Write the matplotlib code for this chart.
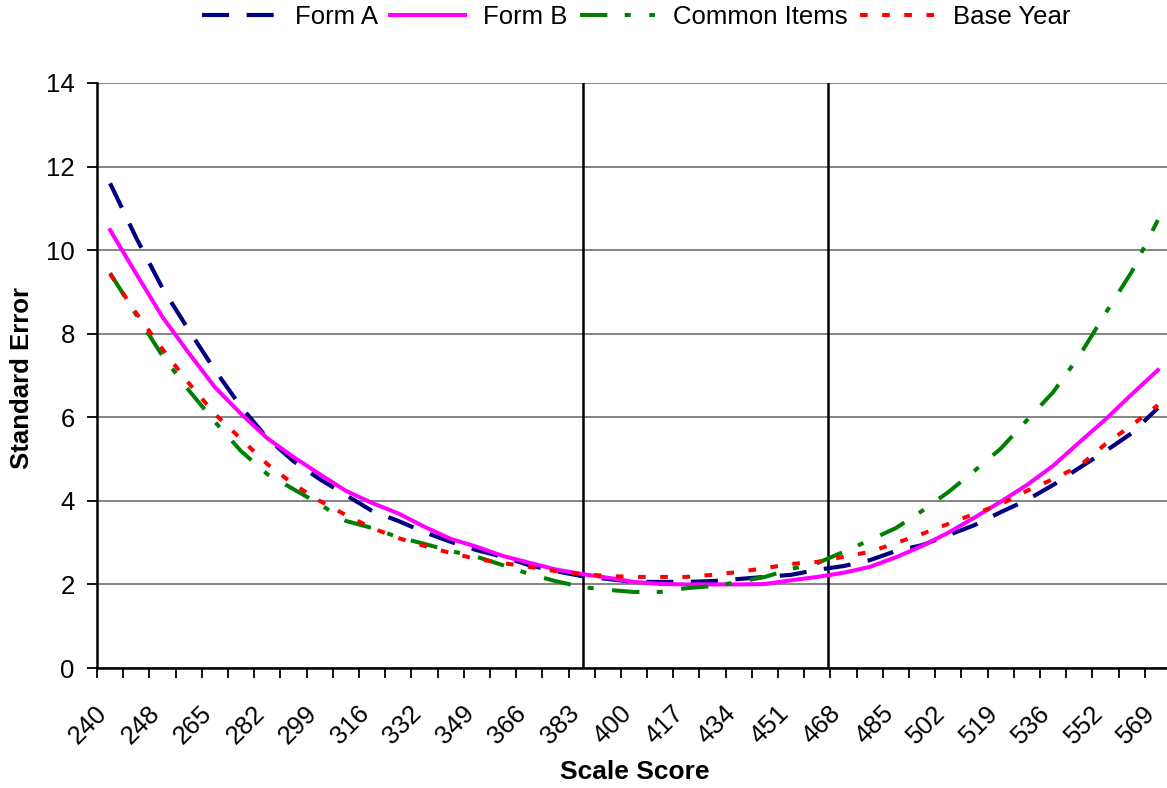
import numpy as np
import matplotlib
matplotlib.use('Agg')
import matplotlib.pyplot as plt
from matplotlib.transforms import ScaledTranslation

plt.rcParams['font.family'] = ['Liberation Sans', 'DejaVu Sans']

# scale score labels (every second category carries a label)
score_labels = [240, 248, 265, 282, 299, 316, 332, 349, 366, 383, 400,
                417, 434, 451, 468, 485, 502, 519, 536, 552, 569]

# standard error at each of the 41 scale score categories
form_a = [11.60, 10.29, 9.09, 8.09, 7.13, 6.25, 5.50, 4.95, 4.52, 4.14,
          3.76, 3.52, 3.25, 3.02, 2.82, 2.66, 2.46, 2.32, 2.20, 2.13,
          2.06, 2.06, 2.06, 2.08, 2.13, 2.18, 2.23, 2.35, 2.44, 2.58,
          2.80, 2.94, 3.18, 3.42, 3.73, 4.02, 4.38, 4.79, 5.19, 5.62, 6.22]
form_b = [10.48, 9.43, 8.40, 7.54, 6.72, 6.08, 5.50, 5.05, 4.64, 4.24,
          3.95, 3.70, 3.38, 3.09, 2.90, 2.68, 2.52, 2.36, 2.25, 2.16,
          2.06, 2.01, 2.00, 2.00, 2.00, 2.01, 2.10, 2.18, 2.28, 2.42,
          2.65, 2.92, 3.24, 3.60, 3.98, 4.38, 4.84, 5.40, 5.95, 6.55, 7.13]
common_items = [9.45, 8.45, 7.47, 6.65, 5.89, 5.19, 4.64, 4.28, 3.92, 3.52,
                3.35, 3.13, 2.97, 2.80, 2.66, 2.46, 2.25, 2.08, 1.94, 1.87,
                1.82, 1.82, 1.91, 1.96, 2.06, 2.18, 2.37, 2.51, 2.78, 3.06,
                3.35, 3.76, 4.21, 4.72, 5.25, 5.93, 6.60, 7.47, 8.49, 9.48, 10.72]
base_year = [9.43, 8.49, 7.63, 6.82, 6.08, 5.48, 4.88, 4.40, 4.00, 3.66,
             3.35, 3.11, 2.92, 2.75, 2.61, 2.51, 2.42, 2.32, 2.25, 2.20,
             2.18, 2.18, 2.18, 2.23, 2.30, 2.39, 2.49, 2.54, 2.66, 2.78,
             2.99, 3.21, 3.45, 3.69, 3.92, 4.24, 4.52, 4.83, 5.36, 5.81, 6.29]

# cut scores marked with vertical lines
cut_scores = [383.4, 462.9]

n = len(form_a)
x = np.arange(n)
label_pos = np.arange(0, n, 2)

fig = plt.figure(figsize=(11.67, 7.88), dpi=100)
ax = fig.add_axes([97 / 1167, 120 / 788, 1074 / 1167, 585 / 788])

ax.plot(x, form_a, color='#000080', lw=3.0, dashes=(6.5, 4.2), label='Form A')
ax.plot(x, form_b, color='#FF00FF', lw=2.9, label='Form B')
ax.plot(x, common_items, color='#008000', lw=2.9,
        dashes=(6.8, 4.3, 1.5, 4.6), label='Common Items')
ax.plot(x, base_year, color='#FF0000', lw=2.9, dashes=(1.9, 3.6), label='Base Year')

for c in cut_scores:
    cx = np.interp(c, score_labels, label_pos)
    ax.plot([cx, cx], [0, 14], color='black', lw=1.8, zorder=1)

ax.set_xlim(-0.5, n - 0.5)
ax.set_ylim(0, 14)

# y axis
ax.set_yticks(np.arange(0, 15, 2))
ax.yaxis.grid(True, color='#7a7a7a', lw=1.3)
ax.set_axisbelow(True)
ax.tick_params(axis='y', direction='out', length=7, width=1.3, pad=9,
               labelsize=18.5)

# x axis: tick marks between categories, labels on every second category
ax.set_xticks(np.arange(-0.5, n, 1.0))
ax.set_xticklabels([])
ax.set_xticks(label_pos, minor=True)
ax.set_xticklabels([str(s) for s in score_labels], minor=True)
ax.tick_params(axis='x', which='major', direction='out', length=7, width=1.3)
ax.tick_params(axis='x', which='minor', length=0, pad=24, labelsize=18.5)
shift = ScaledTranslation(-15 / 100, 0, fig.dpi_scale_trans)
for lbl in ax.get_xticklabels(minor=True):
    lbl.set_rotation(45)
    lbl.set_ha('right')
    lbl.set_va('top')
    lbl.set_rotation_mode('anchor')
    lbl.set_transform(lbl.get_transform() + shift)

for side in ['top', 'right']:
    ax.spines[side].set_visible(False)
ax.spines['left'].set_linewidth(1.8)
ax.spines['bottom'].set_linewidth(1.8)

fig.text(635 / 1167, 1 - 772 / 788, 'Scale Score', ha='center', va='center',
         fontsize=19, fontweight='bold')
fig.text(22 / 1167, 1 - 378 / 788, 'Standard Error', ha='center', va='center',
         rotation=90, fontsize=18.5, fontweight='bold')

fig.legend(loc='center', bbox_to_anchor=(636 / 1167, 1 - 17 / 788), ncol=4,
           frameon=False, fontsize=18.5, handlelength=2.9, handletextpad=0.7,
           columnspacing=0.5, borderaxespad=0)

fig.savefig('out.png', dpi=100)
